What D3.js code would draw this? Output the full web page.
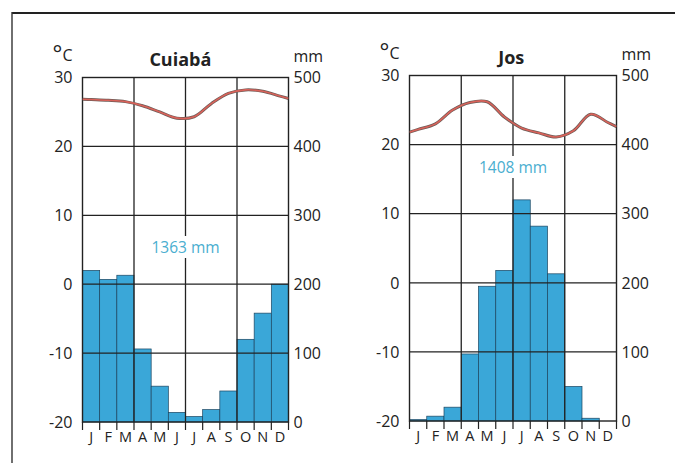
<!DOCTYPE html>
<html>
<head>
<meta charset="utf-8">
<script src="https://cdn.jsdelivr.net/npm/d3@7/dist/d3.min.js"></script>
<style>
  html, body { margin: 0; padding: 0; background: #fff; }
  svg { display: block; }
  text { font-family: "Open Sans", "Noto Sans", sans-serif; fill: #222; }
</style>
</head>
<body>
<svg id="chart" width="675" height="463"></svg>
<script>
// Monthly climate data (temperature in °C, precipitation in mm)
const months = ["J", "F", "M", "A", "M", "J", "J", "A", "S", "O", "N", "D"];
const tempTicks = [-20, -10, 0, 10, 20, 30];
const precipTicks = [0, 100, 200, 300, 400, 500];

const cuiabaTitle = "Cuiabá";
const cuiabaTotal = "1363 mm";
const cuiabaTemp = [26.8, 26.7, 26.5, 25.9, 25.0, 24.1, 24.3, 26.2, 27.7, 28.2, 28.0, 27.3];
const cuiabaPrecip = [220, 207, 213, 106, 52, 14, 8, 18, 45, 120, 158, 200];

const josTitle = "Jos";
const josTotal = "1408 mm";
const josTemp = [22.2, 23.0, 25.0, 26.1, 26.2, 24.0, 22.4, 21.7, 21.1, 22.0, 24.4, 23.2];
const josPrecip = [2, 7, 20, 97, 195, 218, 320, 282, 213, 50, 4, 0];

const svg = d3.select("#chart");

// Outer frame (top and left rules)
svg.append("line").attr("x1", 12).attr("x2", 675).attr("y1", 13).attr("y2", 13)
  .attr("stroke", "#222").attr("stroke-width", 2.2);
svg.append("line").attr("x1", 12).attr("x2", 12).attr("y1", 12).attr("y2", 463)
  .attr("stroke", "#333").attr("stroke-width", 1.4);

function drawPanel(cfg) {
  const { id, title, total, temp, precip, x0, x1, yTop, yBot, totalY, titlePos } = cfg;
  const g = svg.append("g");

  const x = d3.scaleLinear().domain([0, 12]).range([x0, x1]);
  const yT = d3.scaleLinear().domain([-20, 30]).range([yBot, yTop]);
  const yP = d3.scaleLinear().domain([0, 500]).range([yBot, yTop]);
  const band = x(1) - x(0);

  // Precipitation bars
  g.selectAll("rect.bar").data(precip).join("rect")
    .attr("class", "bar")
    .attr("x", (d, i) => x(i))
    .attr("width", band)
    .attr("y", d => yP(d))
    .attr("height", d => yBot - yP(d))
    .attr("fill", "#3aa7d8")
    .attr("stroke", "#1c4560")
    .attr("stroke-width", 0.7);

  // Horizontal grid every 10 °C / 100 mm
  g.selectAll("line.hgrid").data(tempTicks.slice(1, -1)).join("line")
    .attr("x1", x0).attr("x2", x1)
    .attr("y1", d => yT(d)).attr("y2", d => yT(d))
    .attr("stroke", "#222").attr("stroke-width", 1.3);

  // Vertical grid every quarter
  g.selectAll("line.vgrid").data([3, 6, 9]).join("line")
    .attr("x1", d => x(d)).attr("x2", d => x(d))
    .attr("y1", yTop).attr("y2", yBot)
    .attr("stroke", "#222").attr("stroke-width", 1.3);

  // Plot frame
  g.append("rect").attr("x", x0).attr("y", yTop)
    .attr("width", x1 - x0).attr("height", yBot - yTop)
    .attr("fill", "none").attr("stroke", "#222").attr("stroke-width", 1.4);

  // Month ticks and labels
  g.selectAll("line.mtick").data(d3.range(13)).join("line")
    .attr("x1", d => x(d)).attr("x2", d => x(d))
    .attr("y1", yBot).attr("y2", yBot + 8)
    .attr("stroke", "#222").attr("stroke-width", 1.2);
  g.selectAll("text.month").data(months).join("text")
    .attr("x", (d, i) => x(i + 0.5))
    .attr("y", yBot + 20)
    .attr("text-anchor", "middle")
    .attr("font-size", 14.5)
    .text(d => d);

  // Left temperature axis labels
  g.selectAll("text.tlab").data(tempTicks).join("text")
    .attr("x", x0 - 10)
    .attr("y", d => yT(d))
    .attr("dy", "0.36em")
    .attr("text-anchor", "end")
    .attr("font-size", 16)
    .text(d => d);

  // Right precipitation axis labels
  g.selectAll("text.plab").data(precipTicks).join("text")
    .attr("x", x1 + 5)
    .attr("y", d => yP(d))
    .attr("dy", "0.36em")
    .attr("text-anchor", "start")
    .attr("font-size", 16)
    .text(d => d);

  // Units and title
  const degC = g.append("text").attr("x", x0 - 10).attr("y", yTop - 17)
    .attr("text-anchor", "end").attr("font-size", 16);
  degC.append("tspan").attr("font-size", 23).attr("dy", 1).text("°");
  degC.append("tspan").attr("dy", -1).text("C");
  g.append("text").attr("x", x1 + 5).attr("y", yTop - 16)
    .attr("font-size", 16).text("mm");
  g.append("text").attr("x", x(titlePos)).attr("y", yTop - 12)
    .attr("text-anchor", "middle").attr("font-size", 18)
    .attr("font-weight", "bold").text(title);

  // Annual precipitation total, on a white backing over the grid
  const tot = g.append("text").attr("x", x(6)).attr("y", totalY)
    .attr("text-anchor", "middle").attr("font-size", 15.5)
    .style("fill", "#4aaed0").text(total);
  const bb = tot.node().getBBox();
  g.insert("rect", () => tot.node())
    .attr("x", bb.x - 3).attr("y", bb.y).attr("width", bb.width + 6).attr("height", bb.height)
    .attr("fill", "#fff");

  // Temperature curve through month midpoints, extended to both plot edges
  const n = temp.length;
  const pts = [[0, temp[0] - (temp[1] - temp[0]) / 2]]
    .concat(temp.map((t, i) => [i + 0.5, t]))
    .concat([[n, temp[n - 1] + (temp[n - 1] - temp[n - 2]) / 2]]);
  const clipId = "clip-" + id;
  svg.append("clipPath").attr("id", clipId).append("rect")
    .attr("x", x0).attr("y", yTop).attr("width", x1 - x0).attr("height", yBot - yTop);
  const line = d3.line().x(d => x(d[0])).y(d => yT(d[1])).curve(d3.curveCatmullRom.alpha(0.5));
  const lg = g.append("g").attr("clip-path", `url(#${clipId})`);
  lg.append("path").attr("d", line(pts)).attr("fill", "none")
    .attr("stroke", "#6e5c57").attr("stroke-width", 3);
  lg.append("path").attr("d", line(pts)).attr("fill", "none")
    .attr("stroke", "#d9625a").attr("stroke-width", 1.6);
}

drawPanel({ id: "cuiaba", title: cuiabaTitle, total: cuiabaTotal, temp: cuiabaTemp, precip: cuiabaPrecip,
  x0: 82.5, x1: 288.5, yTop: 77.5, yBot: 422, totalY: 253, titlePos: 5.7 });
drawPanel({ id: "jos", title: josTitle, total: josTotal, temp: josTemp, precip: josPrecip,
  x0: 409.5, x1: 616.5, yTop: 75.5, yBot: 421, totalY: 173, titlePos: 5.9 });
</script>
</body>
</html>
